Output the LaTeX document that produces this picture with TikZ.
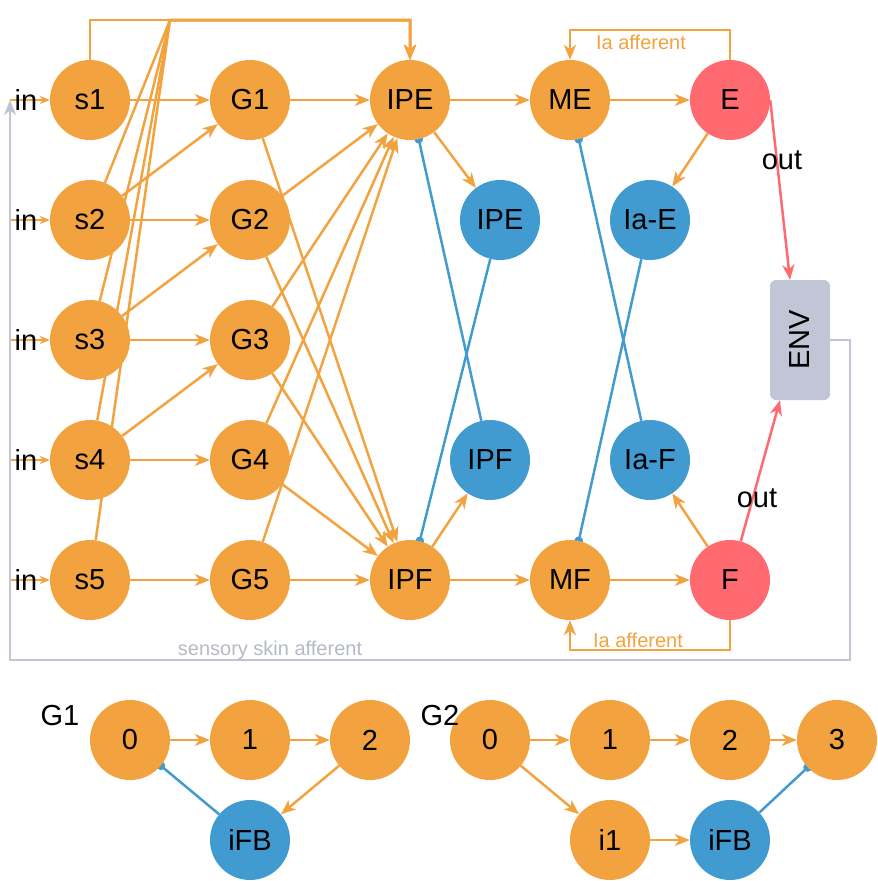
\documentclass[tikz,border=0pt]{standalone}
\usepackage{fontspec}
\setmainfont{Liberation Sans}
\usetikzlibrary{arrows.meta,backgrounds}
\definecolor{orng}{HTML}{F2A33F}
\definecolor{rd}{HTML}{FF6970}
\definecolor{bl}{HTML}{419BD0}
\definecolor{envgray}{HTML}{C0C6D6}
\definecolor{fbgray}{HTML}{C0C5D5}
\definecolor{fbtext}{HTML}{B5B9C6}

\begin{document}
\begin{tikzpicture}[x=1pt,y=-1pt,
  neuron/.style={circle,minimum size=80pt,inner sep=0pt,font=\fontsize{29}{34}\selectfont},
  exc/.style={neuron,fill=orng},
  inh/.style={neuron,fill=bl},
  mot/.style={neuron,fill=rd},
  tip/.style={-{Stealth[length=15pt,width=12pt,inset=4.5pt]}},
  smalltip/.style={-{Stealth[length=10pt,width=8pt,inset=3pt]}},
  syn/.style={draw=orng,line width=2.5pt,tip},
  input/.style={draw=orng,line width=2.2pt,smalltip},
  motor/.style={draw=rd,line width=2.5pt,tip},
  block/.style={draw=bl,line width=2.5pt,-{Circle[length=8.5pt]},shorten >=-4.25pt},
  feedback/.style={draw=fbgray,line width=2.8pt,tip},
  lbl/.style={font=\fontsize{29}{34}\selectfont,inner sep=0pt},
  small/.style={font=\fontsize{20}{24}\selectfont,inner sep=0pt},
  envbox/.style={rectangle,rounded corners=6pt,fill=envgray,minimum width=60pt,minimum height=120pt,inner sep=0pt},
]
\useasboundingbox (0,0) rectangle (878,881);

% sensory, gating and premotor neurons
\foreach \i/\y in {1/100,2/220,3/340,4/460,5/580}{
  \node[exc] (s\i) at (90,\y) {s\i};
  \node[exc] (G\i) at (250,\y) {G\i};
  \coordinate (in\i) at (10,\y);
}
\node[exc] (IPE) at (410,100) {IPE};
\node[exc] (IPF) at (410,580) {IPF};
\node[inh] (IPEi) at (500,220) {IPE};
\node[inh] (IPFi) at (490,460) {IPF};
\node[exc] (ME) at (570,100) {ME};
\node[exc] (MF) at (570,580) {MF};
\node[inh] (IaE) at (650,220) {Ia-E};
\node[inh] (IaF) at (650,460) {Ia-F};
\node[mot] (E) at (730,100) {E};
\node[mot] (F) at (730,580) {F};
\node[envbox] (ENV) at (800,340) {};
\node[lbl,rotate=90] at (ENV) {ENV};

% gate circuits
\node[exc] (a0) at (130,740) {0};
\node[exc] (a1) at (250,740) {1};
\node[exc] (a2) at (370,740) {2};
\node[inh] (aFB) at (250,840) {iFB};
\node[exc] (b0) at (490,740) {0};
\node[exc] (b1) at (610,740) {1};
\node[exc] (b2) at (730,740) {2};
\node[exc] (b3) at (837,740) {3};
\node[exc] (bi1) at (610,840) {i1};
\node[inh] (bFB) at (730,840) {iFB};
\node[lbl] at (60,716) {G1};
\node[lbl] at (440,716) {G2};

\coordinate (hub) at (170,20);
\coordinate (topR) at (410,20);
\coordinate (fbA) at (850,340);
\coordinate (fbB) at (850,660);
\coordinate (fbC) at (10,660);

\begin{pgfonlayer}{background}
  % inputs
  \foreach \i in {1,...,5}{
    \draw[input] (in\i) -- (s\i);
    \draw[syn] (s\i) -- (G\i);
  }
  % direct skin pathway to IPE
  \draw[syn] (s1.north) |- (topR) -- (IPE.north);
  \foreach \s in {s2,s3,s4,s5}
    \draw[syn] (\s) -- (hub) -- (topR) -- (IPE.north);
  \draw[syn] (s2) -- (G1);
  \draw[syn] (s3) -- (G2);
  \draw[syn] (s4) -- (G3);
  % gates to premotor neurons
  \draw[syn] (G1) -- (IPE);
  \draw[syn] (G5) -- (IPF);
  \draw[syn] (G1) -- (IPF);
  \foreach \g in {G2,G3,G4}{
    \draw[syn] (\g) -- (IPE);
    \draw[syn] (\g) -- (IPF);
  }
  \draw[syn] (G5) -- (IPE);
  % premotor to motor
  \draw[syn] (IPE) -- (IPEi);
  \draw[syn] (IPF) -- (IPFi);
  \draw[syn] (IPE) -- (ME);
  \draw[syn] (IPF) -- (MF);
  \draw[syn] (ME) -- (E);
  \draw[syn] (MF) -- (F);
  \draw[syn] (E) -- (IaE);
  \draw[syn] (F) -- (IaF);
  % reciprocal inhibition
  \draw[block] (IPEi) -- (IPF);
  \draw[block] (IPFi) -- (IPE);
  \draw[block] (IaE) -- (MF);
  \draw[block] (IaF) -- (ME);
  % Ia afferent loops
  \draw[syn] (E.north) -- ++(0,-30) -| (ME.north);
  \draw[syn] (F.south) -- ++(0,30) -| (MF.south);
  % motor output
  \draw[motor] (E.east) -- ([xshift=-10pt]ENV.north);
  \draw[motor] (F) -- ([xshift=-20pt]ENV.south);
  % sensory feedback
  \draw[feedback] (ENV.east) -- (fbA) -- (fbB) -- (fbC) -- (in1);
  % gate circuits
  \draw[syn] (a0) -- (a1);
  \draw[syn] (a1) -- (a2);
  \draw[syn] (a2) -- (aFB);
  \draw[block] (aFB) -- (a0);
  \draw[syn] (b0) -- (b1);
  \draw[syn] (b1) -- (b2);
  \draw[syn] (b2) -- (b3);
  \draw[syn] (b0) -- (bi1);
  \draw[syn] (bi1) -- (bFB);
  \draw[block] (bFB) -- (b3);
\end{pgfonlayer}

% labels
\foreach \y in {100,220,340,460,580}
  \node[lbl] at (26,\y) {in};
\node[lbl] at (782,160) {out};
\node[lbl] at (757,498) {out};
\node[small,text=orng] at (641,42) {Ia afferent};
\node[small,text=orng] at (638,640) {Ia afferent};
\node[small,text=fbtext] at (270,650) {sensory skin afferent};
\end{tikzpicture}
\end{document}
